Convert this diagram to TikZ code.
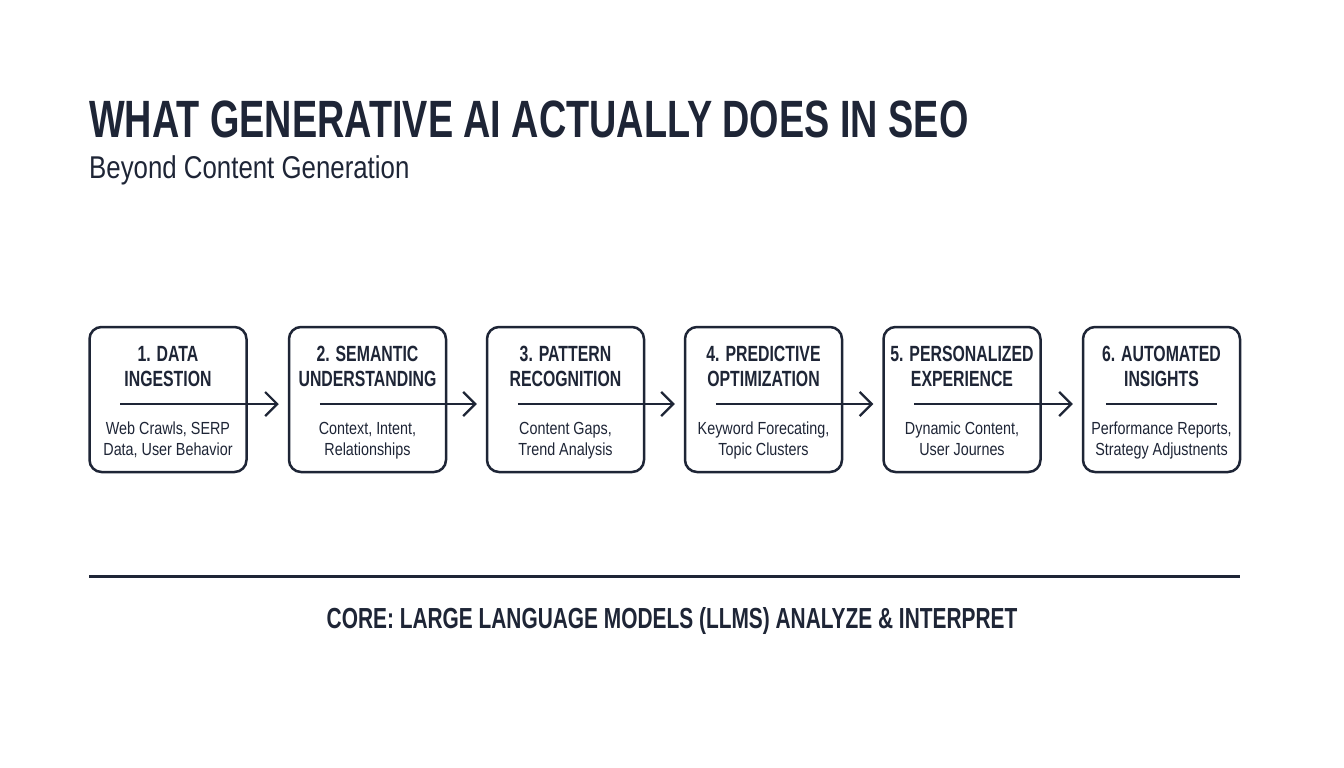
\documentclass[tikz,border=0pt]{standalone}
\usepackage{fontspec}
\setmainfont{Liberation Sans}
\newfontfamily\condb[FakeStretch=0.72]{Liberation Sans}
\newfontfamily\condr[FakeStretch=0.82]{Liberation Sans}
\usetikzlibrary{arrows.meta}
\definecolor{ink}{HTML}{1E2536}
\tikzset{
  stage/.style={draw=ink, line width=2.5pt, rounded corners=12pt, minimum width=157pt, minimum height=145pt, inner sep=0pt},
  head/.style={text=ink, align=center, inner sep=0pt, font=\condb\bfseries\fontsize{22}{25}\selectfont},
  body/.style={text=ink, align=center, inner sep=0pt, font=\condr\fontsize{17.5}{21}\selectfont},
  sepline/.style={draw=ink, line width=2.2pt},
  conn/.style={draw=ink, line width=2.2pt, -{Straight Barb[length=12pt,width=24pt]}},
}
\begin{document}
\begin{tikzpicture}[x=1pt,y=-1pt]
\useasboundingbox (0,0) rectangle (1344,768);
\fill[white] (0,0) rectangle (1344,768);
\node[anchor=base west, inner sep=0pt, text=ink, font=\condb\bfseries\fontsize{52.5}{60}\selectfont] (title) at (89,137) {WHAT GENERATIVE AI ACTUALLY DOES IN SEO};
\node[anchor=base west, inner sep=0pt, text=ink, font=\condr\fontsize{31.5}{36}\selectfont] (subtitle) at (89,178) {Beyond Content Generation};
% boxes
\foreach \i/\x/\h/\b in {
  1/168/{1. DATA\\\strut INGESTION}/{Web Crawls, SERP\\\strut Data, User Behavior},
  2/367.5/{2. SEMANTIC\\\strut UNDERSTANDING}/{Context, Intent,\\\strut Relationships},
  3/565.5/{3. PATTERN\\\strut RECOGNITION}/{Content Gaps,\\\strut Trend Analysis},
  4/763.5/{4. PREDICTIVE\\\strut OPTIMIZATION}/{Keyword Forecating,\\\strut Topic Clusters},
  5/962/{5. PERSONALIZED\\\strut EXPERIENCE}/{Dynamic Content,\\\strut User Journes},
  6/1161.5/{6. AUTOMATED\\\strut INSIGHTS}/{Performance Reports,\\\strut Strategy Adjustnents}}{
  \node[stage] (b\i) at (\x,399.5) {};
  \node[head] (h\i) at (\x,368.5) {\strut\h};
  \node[body] (t\i) at (\x,440.5) {\strut\b};
  \coordinate (s\i) at ([shift={(32,4.5)}]b\i.west);
}
\foreach \i/\j in {1/2,2/3,3/4,4/5,5/6}{
  \coordinate (e\i) at (s\i -| b\j.west);
  \draw[conn] (s\i) -- ([xshift=-9pt]e\i);
}
\coordinate (s6b) at (s6 -| b6.east);
\draw[sepline] ([xshift=-8pt]s6) -- ([xshift=-24pt]s6b);
% core
\coordinate (la) at (89,576);
\coordinate (lb) at (1240,576);
\draw[draw=ink, line width=3pt] (la) -- (lb);
\node[text=ink, inner sep=0pt, font=\condb\bfseries\fontsize{29}{34}\selectfont] (core) at (672,621) {CORE: LARGE LANGUAGE MODELS (LLMS) ANALYZE \& INTERPRET};
\end{tikzpicture}
\end{document}
